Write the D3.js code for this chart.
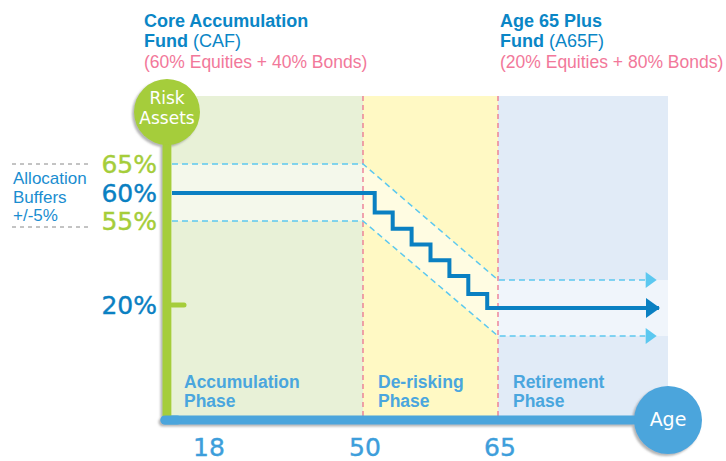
<!DOCTYPE html>
<html>
<head>
<meta charset="utf-8">
<script src="https://cdn.jsdelivr.net/npm/d3@7"></script>
<style>
  body { margin: 0; background: #fff; }
  svg { display: block; font-family: "Liberation Sans", Arial, sans-serif; }
  .tech { font-family: "DejaVu Sans", sans-serif; }
</style>
</head>
<body>
<div id="chart"></div>
<script>
// ---- data ----
var phases = ["Accumulation", "De-risking", "Retirement"];
var phaseStart = [null, 50, 65];       // null = start at the axis
var phaseEnd = [50, 65, 80];
var phaseColors = ["#e8f1d7", "#fff9c4", "#e1ebf7"];

var ageTicks = [18, 50, 65];

var pctTicks = [65, 60, 55, 20];
var pctTickColors = ["#a5cd3a", "#0a80c2", "#a5cd3a", "#0a80c2"];

// glide path (equity %) stepping down between 50 and 65
var glideAges = [18, 51.3, 53.3, 55.4, 57.5, 59.6, 61.7, 63.8, 79.2];
var glidePct = [60, 56.5, 51, 43, 35, 27, 22.5, 20, 20];

// +/-5% buffer lines
var bufferAges = [18, 50, 65, 79];
var upperPct = [65, 65, 25, 25];
var lowerPct = [55, 55, 15, 15];

var width = 726, height = 461;
var axisX = 167, axisY = 420;

var svg = d3.select("#chart").append("svg")
  .attr("width", width)
  .attr("height", height);

var defs = svg.append("defs");
var shadow = defs.append("filter").attr("id", "shadow")
  .attr("x", "-30%").attr("y", "-30%").attr("width", "160%").attr("height", "160%");
shadow.append("feDropShadow")
  .attr("dx", -2).attr("dy", 2).attr("stdDeviation", 1)
  .attr("flood-color", "#777").attr("flood-opacity", 0.55);

// scales (schematic, piecewise)
var x = d3.scaleLinear()
  .domain([18, 50, 65, 80])
  .range([209, 363, 498, 668]);

var y = d3.scaleLinear()
  .domain([15, 20, 25, 55, 60, 65])
  .range([336, 308, 280, 221, 193, 164]);

var panelTop = 96, panelBottom = 417;
var plotLeft = axisX + 5;

function px(a, i) { return i === 0 ? plotLeft : x(a); }

/****** PHASE BACKGROUNDS ******/
svg.append("g").selectAll("rect")
  .data(phases)
  .enter().append("rect")
    .attr("x", function(d, i) { return phaseStart[i] === null ? plotLeft : x(phaseStart[i]); })
    .attr("y", panelTop)
    .attr("width", function(d, i) {
      var s = phaseStart[i] === null ? plotLeft : x(phaseStart[i]);
      return x(phaseEnd[i]) - s;
    })
    .attr("height", panelBottom - panelTop)
    .attr("fill", function(d, i) { return phaseColors[i]; });

// lighter buffer band
var bandPts = bufferAges.map(function(a, i) { return [i === 3 ? x(80) : px(a, i), y(upperPct[i])]; })
  .concat(bufferAges.map(function(a, i) { return [i === 3 ? x(80) : px(a, i), y(lowerPct[i])]; }).reverse());
svg.append("path")
  .attr("d", "M" + bandPts.join("L") + "Z")
  .attr("fill", "#fff")
  .attr("opacity", 0.5);

// phase separators
svg.append("g").selectAll("line")
  .data([50, 65])
  .enter().append("line")
    .attr("x1", function(d) { return x(d); })
    .attr("x2", function(d) { return x(d); })
    .attr("y1", panelTop)
    .attr("y2", panelBottom)
    .attr("stroke", "#ec7390")
    .attr("stroke-width", 1.3)
    .attr("stroke-dasharray", "5,4");

/****** BUFFER LINES ******/
var line = d3.line();
[upperPct, lowerPct].forEach(function(series) {
  var pts = bufferAges.map(function(a, i) { return [px(a, i), y(series[i])]; });
  pts[pts.length - 1][0] = x(78);
  svg.append("path")
    .attr("d", line(pts))
    .attr("fill", "none")
    .attr("stroke", "#5cc8f0")
    .attr("stroke-width", 1.5)
    .attr("stroke-dasharray", "6,4");
  var tx = x(79), ty = y(series[series.length - 1]);
  svg.append("path")
    .attr("d", "M" + (tx - 11) + "," + (ty - 8) + "L" + tx + "," + ty + "L" + (tx - 11) + "," + (ty + 8) + "Z")
    .attr("fill", "#5cc8f0");
});

/****** GLIDE PATH ******/
var glidePts = glideAges.map(function(a, i) { return [px(a, i), y(glidePct[i])]; });
svg.append("path")
  .attr("d", d3.line().curve(d3.curveStepAfter)(glidePts))
  .attr("fill", "none")
  .attr("stroke", "#0a80c2")
  .attr("stroke-width", 4);
var gx = x(80) - 8, gy = y(20);
svg.append("path")
  .attr("d", "M" + (gx - 14) + "," + (gy - 10) + "L" + gx + "," + gy + "L" + (gx - 14) + "," + (gy + 10) + "Z")
  .attr("fill", "#0a80c2");

/****** PHASE LABELS ******/
var phaseLabels = svg.append("g")
  .attr("fill", "#4aa6de")
  .attr("font-weight", "bold")
  .attr("font-size", "17.5px");
phases.forEach(function(p, i) {
  var s = phaseStart[i] === null ? 184 : x(phaseStart[i]) + 15;
  var t = phaseLabels.append("text").attr("x", s).attr("y", 388);
  t.append("tspan").attr("x", s).text(p);
  t.append("tspan").attr("x", s).attr("dy", 19).text("Phase");
});

/****** AXES ******/
var axes = svg.append("g").attr("filter", "url(#shadow)");
// horizontal (age) axis
axes.append("line")
  .attr("x1", axisX - 2).attr("x2", x(80))
  .attr("y1", axisY).attr("y2", axisY)
  .attr("stroke", "#4ba5dc").attr("stroke-width", 9)
  .attr("stroke-linecap", "round");
// vertical (risk) axis
axes.append("line")
  .attr("x1", axisX).attr("x2", axisX)
  .attr("y1", 112).attr("y2", axisY - 4)
  .attr("stroke", "#a5cd3a").attr("stroke-width", 9);
axes.append("circle")
  .attr("cx", axisX).attr("cy", 112).attr("r", 33)
  .attr("fill", "#a5cd3a");
axes.append("circle")
  .attr("cx", x(80)).attr("cy", axisY).attr("r", 34)
  .attr("fill", "#4ba5dc");

// re-draw the join so the horizontal axis sits on top
svg.append("line")
  .attr("x1", axisX - 2).attr("x2", axisX + 10)
  .attr("y1", axisY).attr("y2", axisY)
  .attr("stroke", "#4ba5dc").attr("stroke-width", 9)
  .attr("stroke-linecap", "round");

// 20% tick
svg.append("line")
  .attr("x1", axisX + 5).attr("x2", axisX + 17)
  .attr("y1", y(20) - 3).attr("y2", y(20) - 3)
  .attr("stroke", "#a5cd3a").attr("stroke-width", 5)
  .attr("stroke-linecap", "round");

svg.append("text").attr("class", "tech")
  .attr("x", axisX).attr("y", 104)
  .attr("text-anchor", "middle").attr("fill", "#fff").attr("font-size", "17px")
  .text("Risk");
svg.append("text").attr("class", "tech")
  .attr("x", axisX).attr("y", 124)
  .attr("text-anchor", "middle").attr("fill", "#fff").attr("font-size", "17px")
  .text("Assets");
svg.append("text").attr("class", "tech")
  .attr("x", x(80)).attr("y", 426)
  .attr("text-anchor", "middle").attr("fill", "#fff").attr("font-size", "19px")
  .text("Age");

// percent tick labels
svg.append("g").selectAll("text")
  .data(pctTicks)
  .enter().append("text")
    .attr("class", "tech")
    .attr("x", 157)
    .attr("y", function(d) { return d === 20 ? y(d) - 3 : y(d); })
    .attr("dy", "0.36em")
    .attr("text-anchor", "end")
    .attr("font-size", "25px")
    .attr("fill", function(d, i) { return pctTickColors[i]; })
    .attr("stroke", function(d, i) { return pctTickColors[i]; })
    .attr("stroke-width", 0.4)
    .text(function(d) { return d + "%"; });

// age tick labels
svg.append("g").selectAll("text")
  .data(ageTicks)
  .enter().append("text")
    .attr("class", "tech")
    .attr("x", function(d) { return d === 18 ? x(d) : x(d) + 2; })
    .attr("y", 456)
    .attr("text-anchor", "middle")
    .attr("font-size", "25px")
    .attr("fill", "#3d9edb")
    .attr("stroke", "#3d9edb")
    .attr("stroke-width", 0.4)
    .text(function(d) { return d; });

/****** ALLOCATION BUFFER NOTE ******/
svg.append("g").selectAll("line")
  .data([65, 55])
  .enter().append("line")
    .attr("x1", 12).attr("x2", 92)
    .attr("y1", function(d) { return d === 65 ? y(d) : y(d) + 6; })
    .attr("y2", function(d) { return d === 65 ? y(d) : y(d) + 6; })
    .attr("stroke", "#888").attr("stroke-width", 1)
    .attr("stroke-dasharray", "4,4");
var note = svg.append("text")
  .attr("fill", "#1a8dd0").attr("font-size", "17px");
["Allocation", "Buffers", "+/-5%"].forEach(function(t, i) {
  note.append("tspan").attr("x", 13).attr("y", 184 + i * 18.5).text(t);
});

/****** FUND TITLES ******/
function fundTitle(xPos, line1, line2bold, line2rest, line3) {
  var g = svg.append("g").attr("font-size", "18px");
  g.append("text").attr("x", xPos).attr("y", 27)
    .attr("fill", "#0a86c6").attr("font-weight", "bold").text(line1);
  var t = g.append("text").attr("x", xPos).attr("y", 47).attr("fill", "#0a86c6");
  t.append("tspan").attr("font-weight", "bold").text(line2bold);
  t.append("tspan").text(" " + line2rest);
  g.append("text").attr("x", xPos).attr("y", 68)
    .attr("fill", "#f2789a").attr("font-size", "17.5px").text(line3);
}
fundTitle(144, "Core Accumulation", "Fund", "(CAF)", "(60% Equities + 40% Bonds)");
fundTitle(500, "Age 65 Plus", "Fund", "(A65F)", "(20% Equities + 80% Bonds)");
</script>
</body>
</html>
